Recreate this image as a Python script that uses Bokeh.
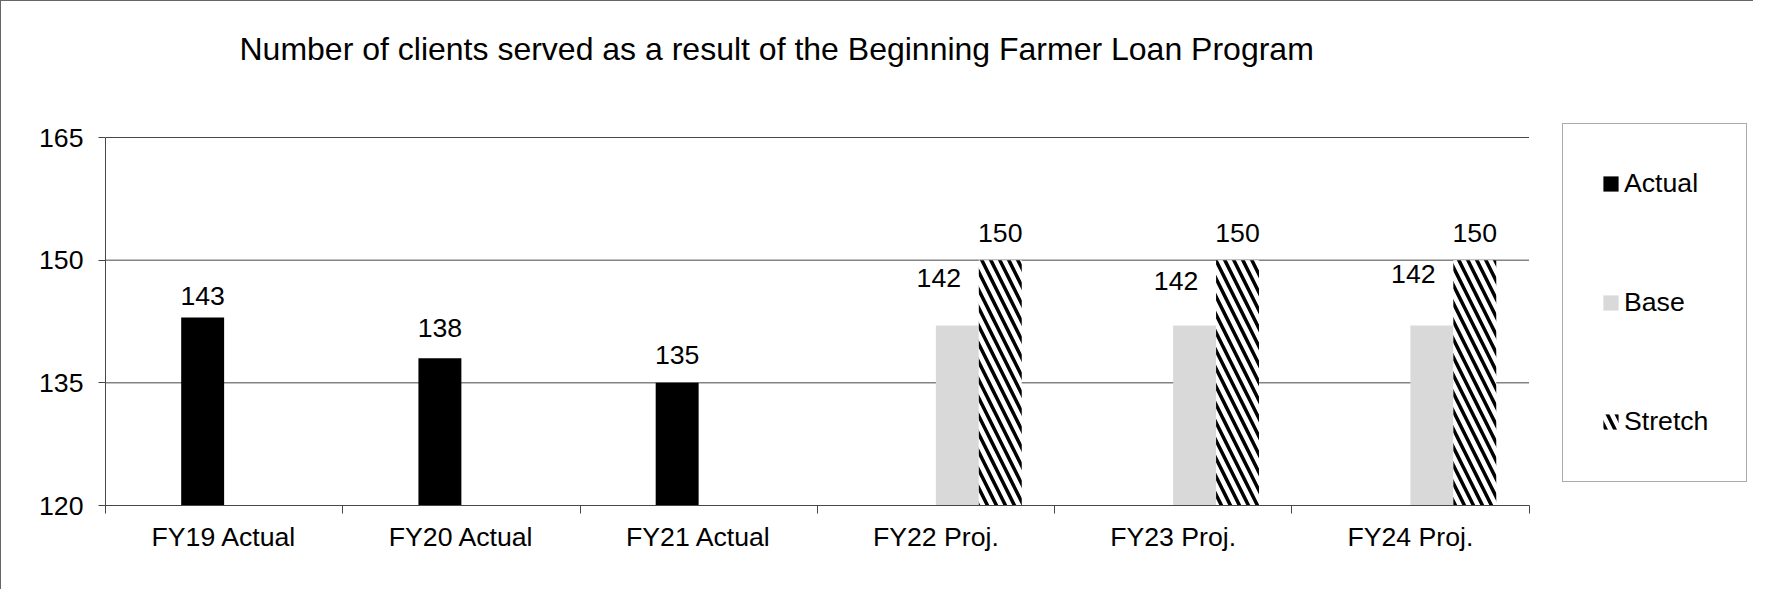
import numpy as np
from bokeh.plotting import figure
from bokeh.models import (ColumnDataSource, Range1d, FixedTicker, LabelSet, Label,
                          Legend, LegendItem)
from bokeh.core.properties import value
from bokeh.embed import file_html
from bokeh.resources import INLINE

# ---- data ----
categories = ["FY19 Actual", "FY20 Actual", "FY21 Actual", "FY22 Proj.", "FY23 Proj.", "FY24 Proj."]
actual = [143, 138, 135, None, None, None]
base = [None, None, None, 142, 142, 142]
stretch = [None, None, None, 150, 150, 150]
y_ticks = [120, 135, 150, 165]
series_names = ["Actual", "Base", "Stretch"]
title_text = "Number of clients served as a result of the Beginning Farmer Loan Program"

# ---- layout / style (not data) ----
FONT = "Liberation Sans"
FS = "26.67px"
BAR_W = 0.181
actual_gap = [12, 21, 19, 0, 0, 0]
base_gap = [0, 0, 0, 39, 36, 43]
stretch_gap = [0, 0, 0, 18, 18, 18]
GRID = "#474747"
HATCH = dict(hatch_pattern="\\", hatch_color="black", hatch_weight=3.5, hatch_scale=18)
STYLES = [dict(fill_color="black"), dict(fill_color="#d9d9d9"), dict(fill_color="white", **HATCH)]

W, H = 1753, 589
LEFT, BOTTOM = 104, 85
PX_PER_UNIT = 368.0 / 45.0     # vertical scale of the value axis
PX_PER_CAT = 1423.5 / 6.0      # width of one category slot
frame_w = W - LEFT
frame_h = H - BOTTOM

y0, y1 = y_ticks[0], y_ticks[-1]
ncat = len(categories)


def series_source(values, shift, gaps, xoff=0):
    idx = [i for i, v in enumerate(values) if v is not None]
    return ColumnDataSource(dict(
        x=[i + 0.5 + shift for i in idx],
        top=[values[i] for i in idx],
        label=[str(values[i]) for i in idx],
        yoff=[gaps[i] for i in idx],
        xoff=[xoff for i in idx],
    ))


sources = [series_source(actual, -BAR_W / 2, actual_gap),
           series_source(base, BAR_W / 2, base_gap, -18.5),
           series_source(stretch, 1.5 * BAR_W, stretch_gap)]

p = figure(width=W, height=H, output_backend="svg", toolbar_location=None, title=None,
           x_range=Range1d(0, frame_w / PX_PER_CAT),
           y_range=Range1d(y0, y0 + frame_h / PX_PER_UNIT),
           min_border_left=LEFT, min_border_right=0, min_border_top=0, min_border_bottom=BOTTOM)
p.background_fill_color = "white"
p.border_fill_color = "white"
p.outline_line_color = None
p.grid.visible = False

# title (as a label placed in screen units)
p.add_layout(Label(x=134, y=frame_h - 47, x_units="screen", y_units="screen",
                   text=title_text, text_font=FONT, text_font_size="32px",
                   text_color="black", text_baseline="middle", text_align="left"))

# horizontal gridlines, limited to the category span
p.segment(x0=0, x1=ncat, y0=y_ticks[1:], y1=y_ticks[1:], line_color=GRID, line_width=1)

rends = []
for src, st in zip(sources, STYLES):
    r = p.vbar(x="x", top="top", bottom=y0, width=BAR_W, source=src, line_color=None, **st)
    rends.append(r)
    p.add_layout(LabelSet(x="x", y="top", text="label", source=src,
                          x_offset="xoff", y_offset="yoff",
                          text_align="center", text_baseline="alphabetic",
                          text_font=value(FONT), text_font_size=value(FS), text_color="black"))

# y axis
p.yaxis.bounds = (y0, y1)
p.yaxis.ticker = FixedTicker(ticks=y_ticks)
p.yaxis.major_tick_out = 7
p.yaxis.major_tick_in = 0
p.yaxis.minor_tick_line_color = None
p.yaxis.axis_line_color = GRID
p.yaxis.major_tick_line_color = GRID
p.yaxis.major_label_text_font = FONT
p.yaxis.major_label_text_font_size = FS
p.yaxis.major_label_text_color = "black"
p.yaxis.major_label_standoff = 15

# x axis: labels at category centres, ticks at boundaries
centers = [i + 0.5 for i in range(ncat)]
p.xaxis.bounds = (0, ncat)
p.xaxis.ticker = FixedTicker(ticks=centers, minor_ticks=list(range(ncat + 1)))
p.xaxis.major_label_overrides = {c: cat for c, cat in zip(centers, categories)}
p.xaxis.major_tick_out = 0
p.xaxis.major_tick_in = 0
p.xaxis.minor_tick_out = 8
p.xaxis.minor_tick_in = 0
p.xaxis.minor_tick_line_color = GRID
p.xaxis.axis_line_color = GRID
p.xaxis.major_label_text_font = FONT
p.xaxis.major_label_text_font_size = FS
p.xaxis.major_label_text_color = "black"
p.xaxis.major_label_standoff = 8

legend = Legend(items=[LegendItem(label=n, renderers=[r]) for n, r in zip(series_names, rends)],
                location=(1457, 23),
                glyph_width=19, glyph_height=19, label_standoff=4, label_height=43,
                label_text_font=FONT, label_text_font_size=FS, label_text_color="black",
                padding=38, spacing=76, margin=0,
                border_line_color="#555555", border_line_width=1,
                background_fill_color="white", background_fill_alpha=1)
p.add_layout(legend)

p.styles = {"border-left": "1px solid #666666", "border-top": "1px solid #666666"}

open("out.html", "w").write(file_html(p, INLINE))
